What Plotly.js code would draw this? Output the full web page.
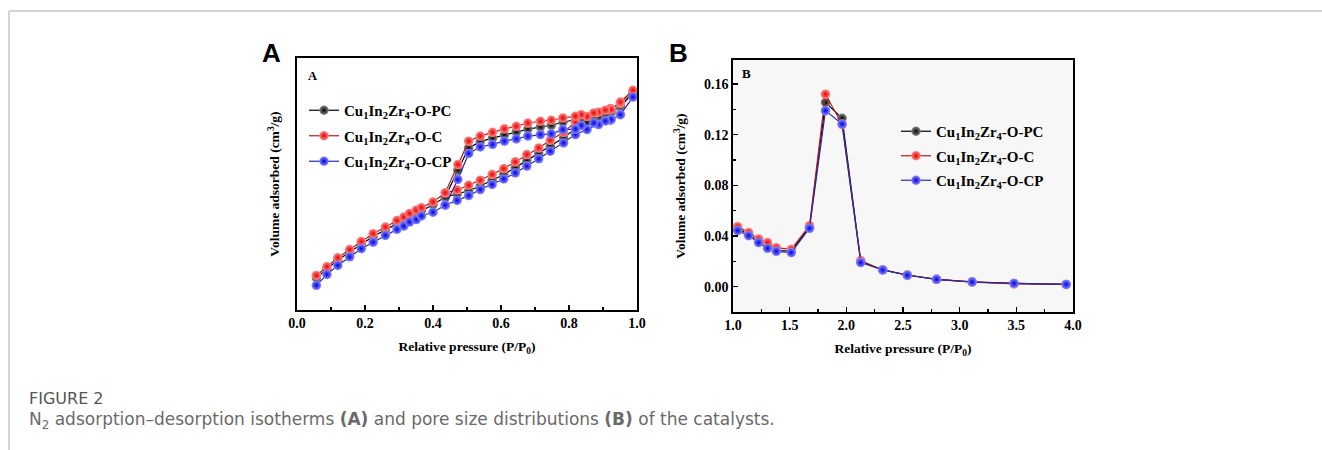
<!DOCTYPE html>
<html>
<head>
<meta charset="utf-8">
<script src="https://cdn.plot.ly/plotly-3.0.1.min.js"></script>
<style>html,body{margin:0;padding:0;background:#fff;}#chart{width:1322px;height:450px;}</style>
</head>
<body>
<div id="chart"></div>
<script>
// ---------- Panel A: N2 adsorption-desorption isotherms ----------
const seriesNames = ['Cu<sub>1</sub>In<sub>2</sub>Zr<sub>4</sub>-O-PC', 'Cu<sub>1</sub>In<sub>2</sub>Zr<sub>4</sub>-O-C', 'Cu<sub>1</sub>In<sub>2</sub>Zr<sub>4</sub>-O-CP'];

const aAdsX = [0.057,0.088,0.120,0.155,0.189,0.224,0.260,0.294,0.314,0.331,0.351,0.366,0.400,0.436,0.471,0.505,0.539,0.574,0.608,0.642,0.676,0.711,0.745,0.784,0.819,0.853,0.887,0.922,0.951,0.988];
const aDesX = [0.951,0.924,0.907,0.873,0.836,0.819,0.782,0.748,0.716,0.679,0.645,0.610,0.575,0.539,0.505,0.473,0.436];

const aPCAdsY = [12.8,16.3,19.8,23.0,26.2,29.2,31.8,34.3,35.7,37.0,38.3,39.3,41.8,44.8,46.0,47.3,49.2,51.5,53.8,56.5,59.3,62.0,65.0,68.3,72.0,74.7,76.8,78.3,80.5,86.2];
const aPCDesY = [81.0,78.5,78.0,77.0,76.2,75.5,74.5,73.3,72.7,71.8,70.6,69.5,68.2,66.8,64.3,55.5,44.8];

const aCAdsY = [13.7,17.2,20.7,24.0,27.2,30.3,32.9,35.5,36.9,38.3,39.6,40.6,42.9,46.5,47.6,49.5,51.5,53.8,56.1,58.8,61.7,64.3,67.4,70.5,74.6,76.8,78.5,80.0,82.0,87.2];
const aCDesY = [82.5,79.5,79.3,78.2,77.5,76.9,76.2,75.3,74.9,74.2,72.9,71.9,70.5,69.0,67.0,57.7,46.5];

const aCPAdsY = [9.8,14.1,17.7,21.1,24.3,26.9,29.6,32.0,33.3,34.9,35.9,37.3,38.8,41.6,43.5,45.4,47.8,49.8,52.0,54.4,57.1,60.0,63.0,66.3,69.6,71.6,73.6,75.3,77.5,84.5];
const aCPDesY = [77.5,75.6,75.0,74.2,73.2,71.8,71.6,69.9,69.6,69.0,67.9,67.0,65.7,64.7,62.1,51.8,41.6];

// ---------- Panel B: pore size distributions ----------
const bX = [1.041,1.138,1.226,1.305,1.382,1.514,1.675,1.816,1.963,2.127,2.321,2.538,2.796,3.110,3.480,3.940];
const bPC = [0.0459,0.0414,0.0361,0.0322,0.0285,0.0282,0.0470,0.1455,0.1330,0.0200,0.0132,0.0092,0.0058,0.0038,0.0026,0.0018];
const bC  = [0.0474,0.0427,0.0377,0.0348,0.0308,0.0295,0.0482,0.1520,0.1280,0.0206,0.0132,0.0092,0.0058,0.0036,0.0022,0.0018];
const bCP = [0.0443,0.0403,0.0348,0.0303,0.0279,0.0269,0.0461,0.1390,0.1284,0.0190,0.0132,0.0090,0.0058,0.0037,0.0026,0.0018];

const aTicks = [0.0,0.2,0.4,0.6,0.8,1.0];
const bXTicks = [1.0,1.5,2.0,2.5,3.0,3.5,4.0];
const bYTicks = [0.00,0.04,0.08,0.12,0.16];

const lineColors = ['#000000', '#b01e1e', '#2a2aa8'];
const markerCenter = ['#8a8a8a', '#ff8a8a', '#8a8aff'];
const markerEdge = ['#000000', '#e80000', '#0000e0'];

const serif = 'Liberation Serif, Times New Roman, serif';
const W = 1322, H = 450;
const px = v => v / W;
const py = v => 1 - v / H;

function mk(i) {
  return {size: 9.5, color: markerCenter[i], gradient: {type: 'radial', color: markerEdge[i]}, line: {width: 0}};
}

const aSets = [[aPCAdsY, aPCDesY], [aCAdsY, aCDesY], [aCPAdsY, aCPDesY]];
const bSets = [bPC, bC, bCP];
const traces = [];
aSets.forEach((s, i) => {
  traces.push({
    x: aAdsX.concat(aDesX), y: s[0].concat(s[1]),
    xaxis: 'x', yaxis: 'y', type: 'scatter', mode: 'lines+markers',
    name: seriesNames[i], legend: 'legend', legendgroup: 'a' + i,
    line: {color: lineColors[i], width: 1.2}, marker: mk(i)
  });
});
bSets.forEach((s, i) => {
  traces.push({
    x: bX, y: s,
    xaxis: 'x2', yaxis: 'y2', type: 'scatter', mode: 'lines+markers',
    name: seriesNames[i], legend: 'legend2', legendgroup: 'b' + i,
    line: {color: lineColors[i], width: 1.2}, marker: mk(i)
  });
});

const tickFont = {family: serif, size: 14, color: '#000', weight: 'bold'};
const titleFont = {family: serif, size: 13.5, color: '#000', weight: 'bold'};
const legFont = {family: serif, size: 15, color: '#000', weight: 'bold'};
const axisBase = {showline: true, linecolor: '#000', linewidth: 1.6, mirror: true, showgrid: false, zeroline: false,
  ticks: 'inside', ticklen: 5, tickwidth: 1.4, tickcolor: '#000', tickfont: tickFont};

const layout = {
  width: W, height: H,
  margin: {l: 0, r: 0, t: 0, b: 0},
  paper_bgcolor: '#ffffff', plot_bgcolor: 'rgba(0,0,0,0)',
  showlegend: true,
  xaxis: Object.assign({}, axisBase, {
    domain: [px(297), px(637)], anchor: 'y', range: [0, 1],
    tickvals: aTicks, ticktext: aTicks.map(v => v.toFixed(1)),
    minor: {dtick: 0.1, ticks: 'inside', ticklen: 3, tickwidth: 1.2, tickcolor: '#000'},
    title: {text: 'Relative pressure (P/P<sub>0</sub>)', font: titleFont, standoff: 11}
  }),
  yaxis: Object.assign({}, axisBase, {
    domain: [1 - 310 / H, 1 - 58 / H], anchor: 'x', range: [0, 100],
    ticks: '', showticklabels: false,
    title: {text: 'Volume adsorbed (cm<sup>3</sup>/g)', font: titleFont, standoff: 12}
  }),
  xaxis2: Object.assign({}, axisBase, {
    domain: [px(733), px(1073)], anchor: 'y2', range: [1, 4],
    tickvals: bXTicks, ticktext: bXTicks.map(v => v.toFixed(1)),
    minor: {dtick: 0.25, ticks: 'inside', ticklen: 3, tickwidth: 1.2, tickcolor: '#000'},
    title: {text: 'Relative pressure (P/P<sub>0</sub>)', font: titleFont, standoff: 11}
  }),
  yaxis2: Object.assign({}, axisBase, {
    domain: [1 - 312 / H, 1 - 60 / H], anchor: 'x2', range: [-0.02, 0.179],
    tickvals: bYTicks, ticktext: bYTicks.map(v => v.toFixed(2)),
    minor: {dtick: 0.02, ticks: 'inside', ticklen: 3, tickwidth: 1.2, tickcolor: '#000'},
    title: {text: 'Volume adsorbed (cm<sup>3</sup>/g)', font: titleFont, standoff: 15}
  }),
  legend: {x: px(304), y: py(94), xanchor: 'left', yanchor: 'top', bgcolor: 'rgba(0,0,0,0)',
    font: legFont, itemwidth: 30, traceorder: 'grouped', tracegroupgap: 3},
  legend2: {x: px(896), y: py(115), xanchor: 'left', yanchor: 'top', bgcolor: 'rgba(0,0,0,0)',
    font: legFont, itemwidth: 30, traceorder: 'grouped', tracegroupgap: 2},
  shapes: [
    {type: 'rect', xref: 'x2 domain', yref: 'y2 domain', x0: 0, x1: 1, y0: 0, y1: 1, fillcolor: '#f7f7f7', line: {width: 0}, layer: 'below'},
    {type: 'line', xref: 'paper', yref: 'paper', x0: px(9), x1: 1, y0: py(11), y1: py(11), line: {color: '#d4d4d4', width: 2}},
    {type: 'line', xref: 'paper', yref: 'paper', x0: px(9), x1: px(9), y0: py(11), y1: 0, line: {color: '#d4d4d4', width: 2}}
  ],
  annotations: [
    {text: '<b>A</b>', xref: 'paper', yref: 'paper', x: px(271), y: py(53), xanchor: 'center', yanchor: 'middle', showarrow: false,
      font: {family: 'Liberation Sans, Arial, sans-serif', size: 26, color: '#000'}},
    {text: '<b>B</b>', xref: 'paper', yref: 'paper', x: px(678), y: py(53), xanchor: 'center', yanchor: 'middle', showarrow: false,
      font: {family: 'Liberation Sans, Arial, sans-serif', size: 26, color: '#000'}},
    {text: '<b>A</b>', xref: 'paper', yref: 'paper', x: px(312), y: py(76), xanchor: 'center', yanchor: 'middle', showarrow: false,
      font: {family: serif, size: 12.5, color: '#000'}},
    {text: '<b>B</b>', xref: 'paper', yref: 'paper', x: px(746), y: py(73), xanchor: 'center', yanchor: 'middle', showarrow: false,
      font: {family: serif, size: 13, color: '#000'}},
    {text: 'FIGURE 2', xref: 'paper', yref: 'paper', x: px(27), y: py(398), xanchor: 'left', yanchor: 'middle', showarrow: false,
      font: {family: 'DejaVu Sans, sans-serif', size: 16, color: '#555555'}},
    {text: 'N<sub>2</sub> adsorption\u2013desorption isotherms <b>(A)</b> and pore size distributions <b>(B)</b> of the catalysts.',
      xref: 'paper', yref: 'paper', x: px(27), y: py(420), xanchor: 'left', yanchor: 'middle', showarrow: false,
      font: {family: 'DejaVu Sans, sans-serif', size: 17, color: '#6a6a6a'}}
  ]
};

Plotly.newPlot('chart', traces, layout, {displayModeBar: false, staticPlot: true});
</script>
</body>
</html>
